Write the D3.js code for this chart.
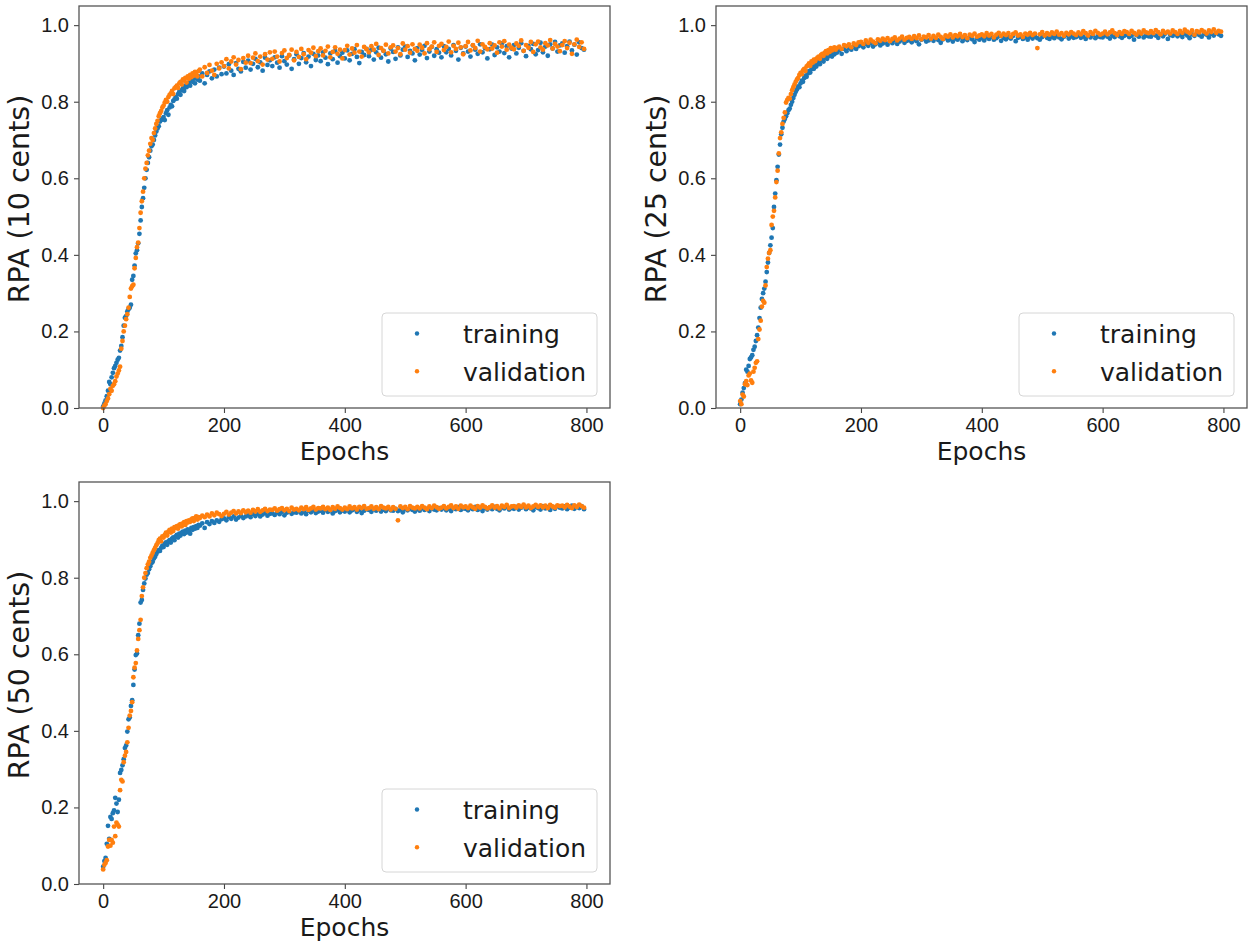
<!DOCTYPE html>
<html>
<head>
<meta charset="utf-8">
<script src="https://cdn.jsdelivr.net/npm/d3@7"></script>
<style>
  body { margin: 0; background: #fff; }
  svg { display: block; font-family: "DejaVu Sans", sans-serif; }
</style>
</head>
<body>
<script>
// epochs: every 2 up to 158, then every 4
const epochs = d3.range(0, 160, 2).concat(d3.range(160, 800, 4))

const xTicks = [0, 200, 400, 600, 800]
const yTicks = [0, 0.2, 0.4, 0.6, 0.8, 1.0]
const yLabels = ['RPA (10 cents)', 'RPA (25 cents)', 'RPA (50 cents)']
const seriesNames = ['training', 'validation']
const colors = ['#1f77b4', '#ff7f0e']

// ---- 10 cents ----
const train10 = [
  0.004, 0.012, 0.020, 0.031, 0.045, 0.068, 0.062, 0.080, 0.092, 0.104,
  0.110, 0.118, 0.126, 0.131, 0.150, 0.162, 0.185, 0.215, 0.236, 0.240,
  0.252, 0.258, 0.262, 0.270, 0.335, 0.345, 0.372, 0.404, 0.412, 0.430,
  0.455, 0.490, 0.525, 0.548, 0.575, 0.600, 0.622, 0.640, 0.655, 0.672,
  0.684, 0.688, 0.700, 0.712, 0.722, 0.730, 0.736, 0.748, 0.752, 0.756,
  0.760, 0.752, 0.770, 0.778, 0.766, 0.785, 0.792, 0.788, 0.802, 0.806,
  0.812, 0.808, 0.820, 0.826, 0.818, 0.830, 0.835, 0.828, 0.842, 0.838,
  0.846, 0.850, 0.842, 0.855, 0.852, 0.860, 0.848, 0.862, 0.858, 0.866,
  // from epoch 160
  0.855, 0.874, 0.848, 0.870, 0.879, 0.861, 0.884, 0.866, 0.889, 0.872,
  0.892, 0.874, 0.898, 0.881, 0.870, 0.901, 0.886, 0.879, 0.904, 0.889,
  0.907, 0.884, 0.899, 0.912, 0.890, 0.903, 0.881, 0.915, 0.896, 0.908,
  0.893, 0.916, 0.902, 0.889, 0.919, 0.906, 0.897, 0.921, 0.886, 0.911,
  0.924, 0.899, 0.914, 0.927, 0.903, 0.918, 0.893, 0.925, 0.909, 0.921,
  0.906, 0.929, 0.915, 0.898, 0.926, 0.911, 0.932, 0.902, 0.919, 0.928,
  0.913, 0.934, 0.908, 0.925, 0.937, 0.917, 0.901, 0.930, 0.922, 0.938,
  0.919, 0.936, 0.910, 0.929, 0.941, 0.915, 0.933, 0.924, 0.905, 0.939,
  0.930, 0.912, 0.942, 0.921, 0.936, 0.944, 0.917, 0.933, 0.926, 0.908,
  0.940, 0.923, 0.935, 0.946, 0.914, 0.931, 0.943, 0.920, 0.937, 0.928,
  0.916, 0.945, 0.929, 0.938, 0.921, 0.948, 0.933, 0.910, 0.941, 0.926,
  0.944, 0.931, 0.918, 0.947, 0.936, 0.925, 0.950, 0.929, 0.940, 0.913,
  0.937, 0.949, 0.922, 0.942, 0.931, 0.952, 0.927, 0.945, 0.916, 0.939,
  0.948, 0.926, 0.941, 0.953, 0.933, 0.919, 0.946, 0.937, 0.951, 0.924,
  0.935, 0.954, 0.929, 0.944, 0.920, 0.950, 0.939, 0.956, 0.931, 0.947,
  0.952, 0.928, 0.945, 0.957, 0.934, 0.949, 0.923, 0.955, 0.940, 0.936
]
const val10 = [
  0.000, 0.006, 0.010, 0.018, 0.025, 0.036, 0.050, 0.045, 0.058, 0.062,
  0.070, 0.082, 0.090, 0.098, 0.108, 0.155, 0.175, 0.200, 0.215, 0.232,
  0.245, 0.262, 0.290, 0.312, 0.318, 0.322, 0.365, 0.392, 0.420, 0.432,
  0.470, 0.510, 0.540, 0.565, 0.600, 0.625, 0.640, 0.660, 0.672, 0.690,
  0.705, 0.700, 0.718, 0.730, 0.742, 0.750, 0.762, 0.770, 0.776, 0.785,
  0.790, 0.798, 0.805, 0.800, 0.812, 0.818, 0.822, 0.828, 0.820, 0.835,
  0.838, 0.842, 0.836, 0.848, 0.852, 0.845, 0.858, 0.855, 0.862, 0.850,
  0.866, 0.860, 0.870, 0.864, 0.874, 0.868, 0.878, 0.872, 0.866, 0.880,
  // from epoch 160
  0.884, 0.866, 0.890, 0.875, 0.896, 0.881, 0.870, 0.899, 0.887, 0.903,
  0.893, 0.911, 0.887, 0.905, 0.916, 0.897, 0.909, 0.885, 0.914, 0.902,
  0.920, 0.901, 0.915, 0.926, 0.906, 0.918, 0.897, 0.924, 0.910, 0.929,
  0.912, 0.931, 0.918, 0.905, 0.927, 0.934, 0.914, 0.922, 0.936, 0.908,
  0.930, 0.917, 0.938, 0.924, 0.911, 0.935, 0.928, 0.941, 0.919, 0.932,
  0.939, 0.921, 0.933, 0.944, 0.916, 0.930, 0.942, 0.925, 0.936, 0.913,
  0.935, 0.946, 0.923, 0.939, 0.928, 0.948, 0.931, 0.918, 0.943, 0.937,
  0.929, 0.945, 0.936, 0.951, 0.922, 0.940, 0.933, 0.949, 0.926, 0.942,
  0.947, 0.931, 0.940, 0.924, 0.952, 0.936, 0.945, 0.928, 0.950, 0.938,
  0.933, 0.949, 0.941, 0.926, 0.953, 0.937, 0.944, 0.955, 0.930, 0.946,
  0.951, 0.935, 0.943, 0.957, 0.929, 0.946, 0.938, 0.954, 0.942, 0.924,
  0.945, 0.956, 0.934, 0.948, 0.940, 0.959, 0.931, 0.950, 0.943, 0.937,
  0.953, 0.939, 0.947, 0.928, 0.955, 0.944, 0.958, 0.936, 0.949, 0.941,
  0.937, 0.952, 0.946, 0.960, 0.933, 0.948, 0.941, 0.956, 0.930, 0.950,
  0.957, 0.942, 0.936, 0.953, 0.947, 0.961, 0.939, 0.951, 0.944, 0.932,
  0.948, 0.958, 0.940, 0.954, 0.925, 0.950, 0.962, 0.943, 0.955, 0.938
]

// ---- 25 cents ----
const train25 = [
  0.010, 0.022, 0.040, 0.052, 0.065, 0.100, 0.095, 0.110, 0.128, 0.132,
  0.138, 0.152, 0.160, 0.175, 0.190, 0.210, 0.235, 0.262, 0.285, 0.300,
  0.312, 0.330, 0.355, 0.380, 0.405, 0.425, 0.445, 0.470, 0.525, 0.560,
  0.595, 0.630, 0.662, 0.688, 0.715, 0.732, 0.748, 0.755, 0.762, 0.770,
  0.778, 0.782, 0.792, 0.800, 0.810, 0.818, 0.826, 0.832, 0.840, 0.838,
  0.848, 0.855, 0.852, 0.862, 0.868, 0.865, 0.874, 0.880, 0.876, 0.885,
  0.890, 0.886, 0.895, 0.892, 0.900, 0.905, 0.898, 0.908, 0.912, 0.905,
  0.915, 0.918, 0.912, 0.922, 0.920, 0.926, 0.918, 0.928, 0.924, 0.930,
  // from epoch 160
  0.928, 0.934, 0.925, 0.938, 0.932, 0.940, 0.936, 0.943, 0.938, 0.945,
  0.948, 0.942, 0.951, 0.946, 0.953, 0.944, 0.950, 0.955, 0.947, 0.952,
  0.955, 0.949, 0.958, 0.953, 0.960, 0.951, 0.957, 0.962, 0.954, 0.959,
  0.961, 0.955, 0.963, 0.958, 0.950, 0.962, 0.965, 0.957, 0.960, 0.964,
  0.959, 0.966, 0.961, 0.954, 0.963, 0.967, 0.960, 0.964, 0.957, 0.965,
  0.962, 0.968, 0.958, 0.965, 0.961, 0.969, 0.963, 0.956, 0.966, 0.962,
  0.967, 0.960, 0.968, 0.964, 0.970, 0.962, 0.966, 0.971, 0.959, 0.967,
  0.963, 0.969, 0.965, 0.972, 0.958, 0.967, 0.970, 0.964, 0.968, 0.962,
  0.970, 0.965, 0.971, 0.966, 0.962, 0.969, 0.973, 0.967, 0.964, 0.970,
  0.966, 0.972, 0.968, 0.963, 0.970, 0.974, 0.965, 0.971, 0.967, 0.969,
  0.973, 0.967, 0.970, 0.964, 0.972, 0.968, 0.975, 0.966, 0.971, 0.969,
  0.968, 0.974, 0.970, 0.965, 0.973, 0.969, 0.976, 0.971, 0.967, 0.972,
  0.975, 0.969, 0.972, 0.962, 0.974, 0.970, 0.977, 0.968, 0.973, 0.971,
  0.970, 0.976, 0.973, 0.967, 0.975, 0.971, 0.978, 0.964, 0.974, 0.972,
  0.977, 0.971, 0.975, 0.969, 0.978, 0.973, 0.966, 0.976, 0.972, 0.979,
  0.974, 0.970, 0.978, 0.975, 0.968, 0.977, 0.973, 0.980, 0.976, 0.972
]
const val25 = [
  0.018, 0.010, 0.035, 0.030, 0.062, 0.070, 0.060, 0.085, 0.090, 0.072,
  0.066, 0.095, 0.105, 0.118, 0.122, 0.180, 0.205, 0.228, 0.265, 0.280,
  0.275, 0.320, 0.368, 0.390, 0.405, 0.412, 0.478, 0.500, 0.515, 0.550,
  0.590, 0.620, 0.665, 0.705, 0.720, 0.742, 0.758, 0.772, 0.798, 0.805,
  0.810, 0.808, 0.820, 0.830, 0.838, 0.845, 0.852, 0.858, 0.862, 0.870,
  0.875, 0.872, 0.882, 0.886, 0.880, 0.892, 0.895, 0.900, 0.894, 0.905,
  0.902, 0.910, 0.906, 0.912, 0.915, 0.918, 0.912, 0.922, 0.925, 0.920,
  0.928, 0.932, 0.926, 0.935, 0.930, 0.940, 0.934, 0.938, 0.942, 0.936,
  // from epoch 160
  0.940, 0.944, 0.938, 0.948, 0.945, 0.950, 0.942, 0.952, 0.948, 0.955,
  0.956, 0.951, 0.960, 0.954, 0.962, 0.957, 0.953, 0.963, 0.959, 0.965,
  0.961, 0.966, 0.958, 0.964, 0.968, 0.960, 0.965, 0.970, 0.962, 0.967,
  0.969, 0.964, 0.971, 0.966, 0.973, 0.963, 0.970, 0.968, 0.974, 0.965,
  0.972, 0.967, 0.975, 0.969, 0.964, 0.973, 0.970, 0.976, 0.968, 0.974,
  0.971, 0.977, 0.969, 0.974, 0.966, 0.975, 0.972, 0.978, 0.970, 0.973,
  0.976, 0.971, 0.979, 0.973, 0.977, 0.968, 0.975, 0.980, 0.972, 0.978,
  0.974, 0.979, 0.970, 0.977, 0.981, 0.973, 0.976, 0.969, 0.978, 0.975,
  0.980, 0.974, 0.978, 0.940, 0.976, 0.982, 0.973, 0.979, 0.975, 0.981,
  0.977, 0.983, 0.975, 0.979, 0.972, 0.980, 0.976, 0.982, 0.978, 0.974,
  0.981, 0.976, 0.984, 0.979, 0.973, 0.982, 0.977, 0.985, 0.980, 0.975,
  0.978, 0.983, 0.976, 0.981, 0.986, 0.979, 0.974, 0.982, 0.977, 0.984,
  0.982, 0.977, 0.985, 0.980, 0.975, 0.983, 0.978, 0.986, 0.981, 0.979,
  0.984, 0.979, 0.987, 0.982, 0.976, 0.985, 0.980, 0.983, 0.978, 0.986,
  0.982, 0.977, 0.985, 0.980, 0.988, 0.983, 0.979, 0.986, 0.975, 0.984,
  0.981, 0.987, 0.983, 0.978, 0.986, 0.982, 0.989, 0.980, 0.985, 0.983
]

// ---- 50 cents ----
const train50 = [
  0.045, 0.060, 0.068, 0.105, 0.152, 0.118, 0.175, 0.170, 0.185, 0.192,
  0.225, 0.210, 0.188, 0.220, 0.290, 0.298, 0.310, 0.326, 0.355, 0.362,
  0.398, 0.430, 0.435, 0.465, 0.480, 0.520, 0.560, 0.598, 0.602, 0.650,
  0.680, 0.735, 0.742, 0.768, 0.785, 0.798, 0.808, 0.812, 0.822, 0.830,
  0.838, 0.842, 0.850, 0.855, 0.862, 0.868, 0.872, 0.870, 0.878, 0.884,
  0.880, 0.888, 0.892, 0.886, 0.895, 0.898, 0.892, 0.902, 0.905, 0.898,
  0.908, 0.912, 0.905, 0.915, 0.910, 0.918, 0.920, 0.914, 0.923, 0.918,
  0.926, 0.922, 0.915, 0.930, 0.925, 0.932, 0.928, 0.935, 0.930, 0.938,
  // from epoch 160
  0.936, 0.942, 0.930, 0.945, 0.940, 0.948, 0.943, 0.950, 0.946, 0.953,
  0.955, 0.950, 0.958, 0.954, 0.960, 0.952, 0.957, 0.962, 0.956, 0.960,
  0.963, 0.958, 0.966, 0.961, 0.967, 0.960, 0.965, 0.969, 0.962, 0.967,
  0.968, 0.964, 0.971, 0.966, 0.972, 0.963, 0.970, 0.973, 0.967, 0.971,
  0.970, 0.974, 0.968, 0.973, 0.966, 0.975, 0.971, 0.976, 0.969, 0.973,
  0.975, 0.970, 0.977, 0.972, 0.976, 0.968, 0.974, 0.978, 0.971, 0.976,
  0.973, 0.978, 0.971, 0.976, 0.979, 0.972, 0.977, 0.969, 0.975, 0.979,
  0.977, 0.972, 0.979, 0.975, 0.980, 0.973, 0.978, 0.974, 0.981, 0.976,
  0.975, 0.980, 0.974, 0.978, 0.971, 0.979, 0.976, 0.981, 0.977, 0.973,
  0.979, 0.975, 0.982, 0.977, 0.980, 0.974, 0.981, 0.978, 0.976, 0.982,
  0.978, 0.983, 0.976, 0.980, 0.974, 0.982, 0.979, 0.984, 0.977, 0.981,
  0.980, 0.976, 0.983, 0.979, 0.985, 0.977, 0.981, 0.974, 0.982, 0.978,
  0.983, 0.979, 0.985, 0.980, 0.976, 0.984, 0.981, 0.986, 0.978, 0.982,
  0.980, 0.985, 0.978, 0.983, 0.987, 0.979, 0.984, 0.981, 0.976, 0.985,
  0.982, 0.978, 0.986, 0.981, 0.984, 0.977, 0.985, 0.980, 0.987, 0.983,
  0.981, 0.986, 0.979, 0.984, 0.988, 0.980, 0.985, 0.982, 0.987, 0.979
]
const val50 = [
  0.038, 0.050, 0.055, 0.062, 0.098, 0.115, 0.100, 0.115, 0.108, 0.150,
  0.125, 0.160, 0.155, 0.150, 0.245, 0.272, 0.268, 0.318, 0.335, 0.345,
  0.370, 0.408, 0.440, 0.452, 0.475, 0.540, 0.565, 0.577, 0.610, 0.640,
  0.663, 0.690, 0.752, 0.775, 0.800, 0.812, 0.825, 0.835, 0.842, 0.852,
  0.858, 0.865, 0.872, 0.878, 0.885, 0.890, 0.898, 0.902, 0.895, 0.908,
  0.905, 0.912, 0.918, 0.910, 0.920, 0.925, 0.918, 0.928, 0.922, 0.932,
  0.930, 0.935, 0.928, 0.938, 0.940, 0.934, 0.942, 0.945, 0.938, 0.948,
  0.944, 0.950, 0.946, 0.952, 0.955, 0.948, 0.956, 0.960, 0.952, 0.958,
  // from epoch 160
  0.956, 0.962, 0.958, 0.965, 0.960, 0.968, 0.963, 0.970, 0.966, 0.961,
  0.967, 0.972, 0.965, 0.970, 0.974, 0.968, 0.973, 0.969, 0.976, 0.971,
  0.975, 0.970, 0.977, 0.973, 0.979, 0.972, 0.976, 0.980, 0.974, 0.978,
  0.977, 0.981, 0.975, 0.979, 0.982, 0.976, 0.980, 0.974, 0.983, 0.978,
  0.980, 0.976, 0.983, 0.979, 0.984, 0.977, 0.981, 0.985, 0.978, 0.982,
  0.981, 0.985, 0.979, 0.983, 0.977, 0.984, 0.980, 0.986, 0.982, 0.978,
  0.983, 0.979, 0.986, 0.981, 0.984, 0.978, 0.985, 0.982, 0.987, 0.980,
  0.982, 0.986, 0.980, 0.984, 0.979, 0.987, 0.983, 0.981, 0.985, 0.978,
  0.984, 0.980, 0.950, 0.986, 0.982, 0.985, 0.979, 0.987, 0.983, 0.981,
  0.985, 0.981, 0.987, 0.983, 0.979, 0.986, 0.982, 0.988, 0.984, 0.980,
  0.983, 0.987, 0.981, 0.985, 0.989, 0.982, 0.986, 0.980, 0.988, 0.984,
  0.986, 0.982, 0.988, 0.984, 0.980, 0.987, 0.983, 0.989, 0.985, 0.981,
  0.984, 0.989, 0.983, 0.987, 0.981, 0.988, 0.985, 0.990, 0.982, 0.986,
  0.987, 0.983, 0.989, 0.985, 0.991, 0.984, 0.988, 0.982, 0.986, 0.990,
  0.985, 0.989, 0.984, 0.988, 0.982, 0.990, 0.986, 0.983, 0.989, 0.987,
  0.988, 0.984, 0.990, 0.986, 0.982, 0.989, 0.985, 0.991, 0.987, 0.983
]

const w = 1251
const h = 944
const pw = 531   // axes width
const ph = 402   // axes height

const panels = [
  { left: 79, top: 6, label: yLabels[0], sets: [train10, val10] },
  { left: 716, top: 6, label: yLabels[1], sets: [train25, val25] },
  { left: 79, top: 482, label: yLabels[2], sets: [train50, val50] }
]

const svg = d3.select('body')
  .append('svg')
  .attr('width', w)
  .attr('height', h)

panels.forEach(p => drawPanel(p))

function drawPanel(p) {
  const x = d3.scaleLinear()
    .domain([-40, 839])
    .range([p.left, p.left + pw])

  const y = d3.scaleLinear()
    .domain([0, 1.05])
    .range([p.top + ph, p.top])

  const g = svg.append('g')

  p.sets.forEach((vals, k) => {
    g.append('g')
      .selectAll('circle')
      .data(vals)
      .enter()
      .append('circle')
      .attr('cx', (d, i) => x(epochs[i]))
      .attr('cy', d => y(d))
      .attr('r', 2.4)
      .attr('fill', colors[k])
  })

  const xAxis = d3.axisBottom(x)
    .tickValues(xTicks)
    .tickSize(5)
    .tickPadding(5)

  const yAxis = d3.axisLeft(y)
    .tickValues(yTicks)
    .tickFormat(d3.format('.1f'))
    .tickSize(5)
    .tickPadding(5)

  const gx = g.append('g')
    .attr('transform', 'translate(0,' + (p.top + ph) + ')')
    .call(xAxis)

  const gy = g.append('g')
    .attr('transform', 'translate(' + p.left + ',0)')
    .call(yAxis)

  ;[gx, gy].forEach(a => {
    a.select('.domain').remove()
    a.selectAll('line').attr('stroke', '#444').attr('stroke-width', 1.1)
    a.selectAll('text')
      .attr('fill', '#1a1a1a')
      .style('font-size', '20px')
  })

  // frame
  g.append('rect')
    .attr('x', p.left)
    .attr('y', p.top)
    .attr('width', pw)
    .attr('height', ph)
    .attr('fill', 'none')
    .attr('stroke', '#555')
    .attr('stroke-width', 1.3)

  g.append('text')
    .attr('x', p.left + pw / 2)
    .attr('y', p.top + ph + 52)
    .attr('text-anchor', 'middle')
    .attr('fill', '#1a1a1a')
    .style('font-size', '25px')
    .text('Epochs')

  g.append('text')
    .attr('transform', 'translate(' + (p.left - 50) + ',' + (p.top + ph / 2 - 8) + ') rotate(-90)')
    .attr('text-anchor', 'middle')
    .attr('fill', '#1a1a1a')
    .style('font-size', '28.5px')
    .text(p.label)

  // legend
  const lx = p.left + pw - 13 - 215
  const ly = p.top + ph - 12 - 83
  const lg = g.append('g')

  lg.append('rect')
    .attr('x', lx)
    .attr('y', ly)
    .attr('width', 215)
    .attr('height', 83)
    .attr('rx', 4)
    .attr('fill', '#fff')
    .attr('fill-opacity', 0.8)
    .attr('stroke', '#d6d6d6')
    .attr('stroke-width', 1)

  seriesNames.forEach((name, k) => {
    const cy = ly + 20.5 + k * 37.7
    lg.append('circle')
      .attr('cx', lx + 35)
      .attr('cy', cy)
      .attr('r', 2.2)
      .attr('fill', colors[k])
    lg.append('text')
      .attr('x', lx + 81)
      .attr('y', cy + 9.5)
      .attr('fill', '#1a1a1a')
      .style('font-size', '25px')
      .text(name)
  })
}
</script>
</body>
</html>
